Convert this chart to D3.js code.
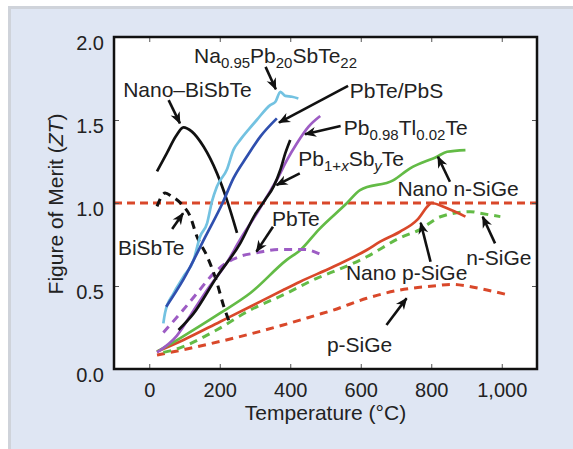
<!DOCTYPE html>
<html>
<head>
<meta charset="utf-8">
<script src="https://cdn.jsdelivr.net/npm/d3@7"></script>
<style>
  body { margin: 0; background: #fff; }
  text { font-family: "Liberation Sans", Arial, Helvetica, sans-serif; fill: #222; }
</style>
</head>
<body>
<div id="chart"></div>
<script>
// Curvas de ZT x temperatura (°C)
const naPbSbTe = [[40,0.275],[45,0.34],[69,0.456],[97,0.556],[126,0.657],[144,0.797],[164,0.877],[178,1.01],[192,1.10],[220,1.20],[239,1.32],[258,1.38],[281,1.44],[305,1.50],[343,1.59],[358,1.61],[372,1.67],[386,1.645],[405,1.64],[423,1.63]];
const pbtePbs = [[48,0.375],[97,0.54],[160,0.80],[208,1.0],[239,1.15],[277,1.28],[315,1.40],[362,1.51]];
const pbTlTe = [[22,0.10],[78,0.20],[125,0.35],[164,0.476],[220,0.64],[258,0.78],[300,0.92],[334,1.04],[362,1.14],[391,1.26],[419,1.36],[452,1.46],[485,1.524]];
const pbSbTe = [[83,0.235],[126,0.335],[192,0.556],[258,0.757],[300,0.93],[329,1.02],[353,1.10],[372,1.20],[386,1.30],[400,1.38]];
const pbTe = [[40,0.22],[88,0.335],[135,0.455],[180,0.57],[216,0.635],[260,0.68],[305,0.70],[367,0.72],[440,0.72],[487,0.69]];
const nanoBiSbTe = [[22,1.19],[50,1.30],[75,1.40],[97,1.456],[121,1.43],[154,1.34],[192,1.18],[220,1.02],[249,0.82]];
const biSbTe = [[22,0.98],[45,1.06],[64,1.04],[93,0.99],[116,0.92],[135,0.80],[164,0.68],[192,0.52],[211,0.38],[228,0.28]];
const nanoNSiGe = [[22,0.105],[87,0.185],[201,0.336],[286,0.456],[390,0.657],[429,0.717],[481,0.84],[561,1.0],[598,1.078],[693,1.138],[740,1.209],[816,1.279],[845,1.309],[897,1.319]];
const nanoPSiGe = [[22,0.105],[97,0.175],[201,0.285],[286,0.375],[380,0.476],[428,0.526],[522,0.616],[617,0.717],[655,0.767],[711,0.827],[760,0.898],[793,0.988],[800,1.0],[845,0.968],[897,0.918]];
const nSiGe = [[40,0.10],[68,0.114],[191,0.235],[286,0.355],[380,0.446],[475,0.546],[522,0.586],[617,0.676],[711,0.79],[768,0.84],[826,0.917],[911,0.948],[939,0.938],[996,0.918]];
const pSiGe = [[22,0.084],[116,0.125],[238,0.185],[380,0.265],[475,0.325],[522,0.355],[617,0.426],[711,0.476],[806,0.50],[860,0.51],[901,0.50],[958,0.476],[1019,0.446]];
const refLine = [[-100,1.0],[1100,1.0]];

const xTicks = [0, 200, 400, 600, 800, 1000];
const yTicks = [0, 0.5, 1.0, 1.5, 2.0];

// Rótulos: partes do texto [texto, tipo] e ponto âncora (T, ZT)
const labels = [
  { at: [127, 1.843], parts: [["Na"], ["0.95", "sub"], ["Pb"], ["20", "sub"], ["SbTe"], ["22", "sub"]] },
  { at: [-74, 1.64], parts: [["Nano–BiSbTe"]] },
  { at: [569, 1.633], parts: [["PbTe/PbS"]] },
  { at: [552, 1.41], parts: [["Pb"], ["0.98", "sub"], ["Tl"], ["0.02", "sub"], ["Te"]] },
  { at: [423, 1.225], parts: [["Pb"], ["1+", "sub"], ["x", "subi"], ["Sb"], ["y", "subi"], ["Te"]] },
  { at: [704, 1.042], parts: [["Nano n-SiGe"]] },
  { at: [-89, 0.687], parts: [["BiSbTe"]] },
  { at: [348, 0.861], parts: [["PbTe"]] },
  { at: [899, 0.627], parts: [["n-SiGe"]] },
  { at: [558, 0.536], parts: [["Nano p-SiGe"]] },
  { at: [504, 0.104], parts: [["p-SiGe"]] }
];

// Setas: [de, para] em (T, ZT)
const arrows = [
  [[55, 1.62], [87, 1.48]],
  [[330, 1.82], [359, 1.685]],
  [[564, 1.705], [368, 1.484]],
  [[543, 1.464], [442, 1.414]],
  [[427, 1.179], [361, 1.108]],
  [[65, 0.843], [96, 0.938]],
  [[351, 0.857], [304, 0.707]],
  [[853, 1.128], [819, 1.279]],
  [[798, 0.646], [770, 0.881]],
  [[981, 0.757], [946, 0.917]],
  [[673, 0.265], [730, 0.426]]
];

const series = [
  { data: refLine, color: "#d9482a", dash: "8,5" },
  { data: pSiGe, color: "#d9482a", dash: "8,6" },
  { data: nSiGe, color: "#63bb46", dash: "8,6" },
  { data: nanoPSiGe, color: "#d9482a" },
  { data: nanoNSiGe, color: "#63bb46" },
  { data: pbTe, color: "#9d5cc4", dash: "8,6" },
  { data: biSbTe, color: "#111", dash: "8,6" },
  { data: nanoBiSbTe, color: "#111" },
  { data: naPbSbTe, color: "#73c2e1" },
  { data: pbtePbs, color: "#2f4fae" },
  { data: pbTlTe, color: "#9d5cc4" },
  { data: pbSbTe, color: "#111" }
];

const W = 573, H = 449;
const margin = { top: 37, right: 36, bottom: 80, left: 114 };
const width = W - margin.left - margin.right;
const height = H - margin.top - margin.bottom;

const root = d3.select("#chart").append("svg")
  .attr("width", W)
  .attr("height", H);

// Painel de fundo
root.append("rect")
  .attr("x", 9.5).attr("y", 7.5)
  .attr("width", W).attr("height", H)
  .attr("fill", "#dfe6f3")
  .attr("stroke", "#cfd3da")
  .attr("stroke-width", 3);

const defs = root.append("defs");
defs.append("marker")
  .attr("id", "head")
  .attr("markerUnits", "userSpaceOnUse")
  .attr("viewBox", "-12 -6 14 12")
  .attr("markerWidth", 14).attr("markerHeight", 12)
  .attr("refX", 0).attr("refY", 0)
  .attr("orient", "auto")
  .append("path")
  .attr("d", "M1,0 L-11,-5 L-7.5,0 L-11,5 Z")
  .attr("fill", "#111");
defs.append("clipPath").attr("id", "clip")
  .append("rect").attr("width", width).attr("height", height);

const svg = root.append("g")
  .attr("transform", `translate(${margin.left},${margin.top})`);

svg.append("rect")
  .attr("width", width).attr("height", height)
  .attr("fill", "#fff");

const x = d3.scaleLinear().domain([-100, 1100]).range([0, width]);
const y = d3.scaleLinear().domain([0, 2]).range([height, 0]);

const line = d3.line()
  .x(d => x(d[0]))
  .y(d => y(d[1]))
  .curve(d3.curveMonotoneX);

const plot = svg.append("g").attr("clip-path", "url(#clip)");

plot.selectAll("path.serie")
  .data(series)
  .join("path")
  .attr("class", "serie")
  .attr("d", d => line(d.data))
  .attr("fill", "none")
  .attr("stroke", d => d.color)
  .attr("stroke-width", d => d.dash ? 3 : 2.7)
  .attr("stroke-dasharray", d => d.dash || null)
  .attr("stroke-linejoin", "round");

// Setas
svg.selectAll("line.seta")
  .data(arrows)
  .join("line")
  .attr("class", "seta")
  .attr("x1", d => x(d[0][0])).attr("y1", d => y(d[0][1]))
  .attr("x2", d => x(d[1][0])).attr("y2", d => y(d[1][1]))
  .attr("stroke", "#111")
  .attr("stroke-width", 2.6)
  .attr("marker-end", "url(#head)");

// Rótulos
const lbl = svg.selectAll("text.rotulo")
  .data(labels)
  .join("text")
  .attr("class", "rotulo")
  .attr("x", d => x(d.at[0]))
  .attr("y", d => y(d.at[1]))
  .attr("font-size", 21);

lbl.each(function(d) {
  const t = d3.select(this);
  let down = false;
  d.parts.forEach(p => {
    const sub = p[1] === "sub" || p[1] === "subi";
    const ts = t.append("tspan").text(p[0]);
    if (sub) {
      ts.attr("font-size", 15);
      if (p[1] === "subi") ts.attr("font-style", "italic");
      if (!down) { ts.attr("dy", 5); down = true; }
    } else if (down) {
      ts.attr("dy", -5); down = false;
    }
  });
});

// Eixos
svg.append("g")
  .attr("transform", `translate(0,${height})`)
  .call(d3.axisBottom(x).tickValues(xTicks).tickFormat(d3.format(",")).tickSizeInner(-5).tickSizeOuter(0).tickPadding(14))
  .call(g => g.select(".domain").remove())
  .call(g => g.selectAll("line").attr("stroke", "#555"))
  .call(g => g.selectAll("text").attr("font-size", 20).attr("fill", "#222"));

svg.append("g")
  .call(d3.axisTop(x).tickValues(xTicks).tickFormat("").tickSizeInner(-5).tickSizeOuter(0))
  .call(g => g.select(".domain").remove())
  .call(g => g.selectAll("line").attr("stroke", "#555"));

svg.append("g")
  .call(d3.axisLeft(y).tickValues(yTicks).tickFormat(d3.format(".1f")).tickSizeInner(-5).tickSizeOuter(0).tickPadding(10))
  .call(g => g.select(".domain").remove())
  .call(g => g.selectAll("line").attr("stroke", "#555"))
  .call(g => g.selectAll("text").attr("font-size", 20).attr("dy", "0.6em").attr("fill", "#222"));

svg.append("g")
  .attr("transform", `translate(${width},0)`)
  .call(d3.axisRight(y).tickValues(yTicks).tickFormat("").tickSizeInner(-5).tickSizeOuter(0))
  .call(g => g.select(".domain").remove())
  .call(g => g.selectAll("line").attr("stroke", "#555"));

// Moldura
svg.append("rect")
  .attr("width", width).attr("height", height)
  .attr("fill", "none")
  .attr("stroke", "#111")
  .attr("stroke-width", 2.5);

// Títulos dos eixos
svg.append("text")
  .attr("x", width / 2)
  .attr("y", height + 51)
  .attr("text-anchor", "middle")
  .attr("font-size", 21)
  .text("Temperature (°C)");

const yt = svg.append("text")
  .attr("transform", `translate(${63 - margin.left},${height / 2 + 1}) rotate(-90)`)
  .attr("text-anchor", "middle")
  .attr("font-size", 21);
yt.append("tspan").text("Figure of Merit (");
yt.append("tspan").attr("font-style", "italic").text("ZT");
yt.append("tspan").text(")");
</script>
</body>
</html>
